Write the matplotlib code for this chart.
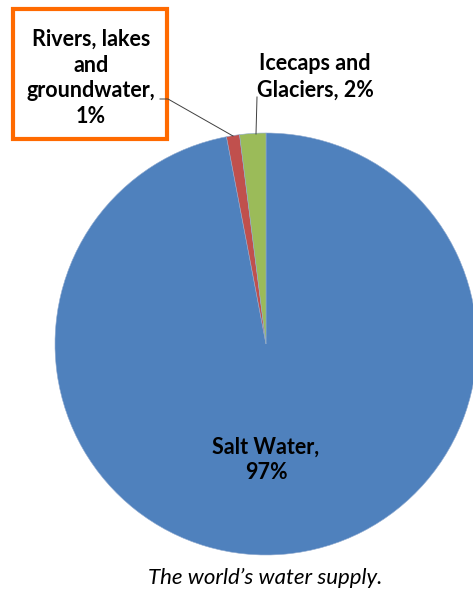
import matplotlib
matplotlib.use("Agg")
import matplotlib.pyplot as plt
from matplotlib.patches import Rectangle

# Data
labels = ["Salt Water", "Rivers, lakes and groundwater", "Icecaps and Glaciers"]
shares = [97, 1, 2]
colors = ["#4F81BD", "#C0504D", "#9BBB59"]

W, H = 473, 591


def main():
    plt.rcParams['font.family'] = ['Lato', 'DejaVu Sans']
    fig = plt.figure(figsize=(W / 100, H / 100), dpi=100)
    ax = fig.add_axes([0, 0, 1, 1])
    ax.set_xlim(0, W)
    ax.set_ylim(0, H)
    ax.set_aspect('equal')
    ax.axis('off')

    # pie drawn in pixel-like data coords, y measured upward
    ax.pie(shares, colors=colors, startangle=90, counterclock=False,
           center=(266, H - 344), radius=211,
           wedgeprops=dict(edgecolor='#8faad0', linewidth=0.4))
    ax.set_xlim(0, W)
    ax.set_ylim(0, H)

    fs = 15.5
    # data labels
    ax.text(266, H - 460, "Salt Water,\n97%", ha='center', va='center',
            fontsize=fs, fontweight='bold', linespacing=1.25)
    ax.text(315, H - 77, "Icecaps and\nGlaciers, %d%%" % shares[2], ha='center',
            va='center', fontsize=fs, fontweight='bold', linespacing=1.3)
    ax.text(91, H - 78, "Rivers, lakes\nand\ngroundwater,\n%d%%" % shares[1],
            ha='center', va='center', fontsize=fs, fontweight='bold',
            linespacing=1.28)

    # leader lines
    ax.plot([257, 256], [H - 97, H - 134], color='#404040', lw=0.7)
    ax.plot([160, 168, 233], [H - 99, H - 99, H - 136], color='#404040', lw=0.7)

    # orange highlight box
    ax.add_patch(Rectangle((13, H - 139), 154, 130, fill=False,
                           edgecolor='#FF6A00', lw=3))

    # caption
    ax.text(265, H - 578, "The world\u2019s water supply.", ha='center',
            va='center', fontsize=16, style='italic')

    fig.savefig("out.png", dpi=100)


if __name__ == "__main__":
    main()
